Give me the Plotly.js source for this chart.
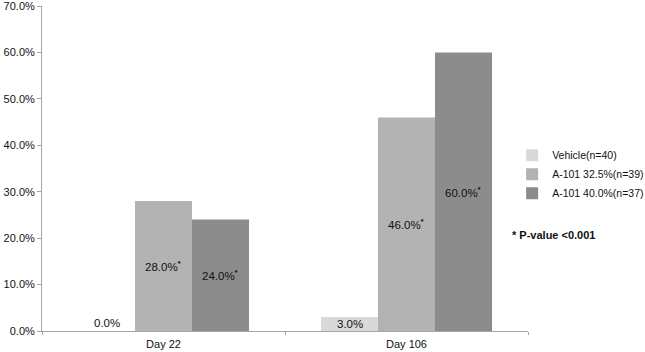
<!DOCTYPE html>
<html><head><meta charset="utf-8">
<script src="https://cdn.plot.ly/plotly-3.0.1.min.js"></script>
<style>body{margin:0;background:#fff}#chart{width:645px;height:352px}</style>
</head><body><div id="chart"></div>
<script>
const categories = ["Day 22", "Day 106"];
const seriesNames = ["Vehicle(n=40)", "A-101 32.5%(n=39)", "A-101 40.0%(n=37)"];
const vehicle = [0.0, 3.0];
const a101_325 = [28.0, 46.0];
const a101_40 = [24.0, 60.0];
const significant = [[false, false], [true, true], [true, true]];
const colors = ["#d9d9d9", "#b3b3b3", "#8c8c8c"];
const series = [vehicle, a101_325, a101_40];

const traces = series.map((vals, i) => ({
  type: "bar", name: seriesNames[i], x: categories, y: vals,
  marker: {color: colors[i]}, hoverinfo: "none"
}));

const font = {family: "Liberation Sans, Arial, sans-serif", size: 11, color: "#111"};
const annotations = [];
const offsets = [-1, 0, 1];
series.forEach((vals, i) => {
  vals.forEach((v, j) => {
    annotations.push({
      x: j, xref: "x", y: v > 0 ? v / 2 : 0, yref: "y",
      xshift: offsets[i] * 57,
      yanchor: v > 0 ? "middle" : "bottom",
      text: v.toFixed(1) + "%" + (significant[i][j] ? "<sup><b>*</b></sup>" : ""),
      showarrow: false, font: {family: font.family, size: 11.5, color: "#111"}
    });
  });
});
annotations.push({
  xref: "paper", yref: "paper", x: 1.0, y: 0.295, xanchor: "left", yanchor: "middle",
  xshift: -18,
  text: "<b>* P-value <0.001</b>", showarrow: false, font: font
});

const layout = {
  width: 645, height: 352,
  margin: {l: 42, r: 117, t: 6, b: 21, autoexpand: false},
  paper_bgcolor: "#fff", plot_bgcolor: "#fff",
  font: font,
  barmode: "group", bargap: 0.296, bargroupgap: 0,
  showlegend: true,
  legend: {xref: "container", yref: "container", x: 0.794, y: 0.505, xanchor: "left", yanchor: "middle",
           font: {family: font.family, size: 10.5, color: "#111"},
           itemwidth: 30, tracegroupgap: 0, bgcolor: "rgba(0,0,0,0)"},
  xaxis: {type: "category", showline: true, linecolor: "#a6a6a6", linewidth: 1,
          ticks: "outside", tickson: "boundaries", ticklen: 3, tickcolor: "#a6a6a6",
          showgrid: false, zeroline: false, tickfont: font, ticklabelstandoff: 3},
  yaxis: {range: [0, 70.02], tickvals: [0, 10, 20, 30, 40, 50, 60, 70],
          ticktext: ["0.0%", "10.0%", "20.0%", "30.0%", "40.0%", "50.0%", "60.0%", "70.0%"],
          showline: true, linecolor: "#a6a6a6", linewidth: 1,
          ticks: "outside", ticklen: 4, tickcolor: "#a6a6a6", ticklabeloverflow: "allow",
          showgrid: false, zeroline: false, tickfont: font},
  annotations: annotations
};
Plotly.newPlot("chart", traces, layout, {staticPlot: true});
</script></body></html>
